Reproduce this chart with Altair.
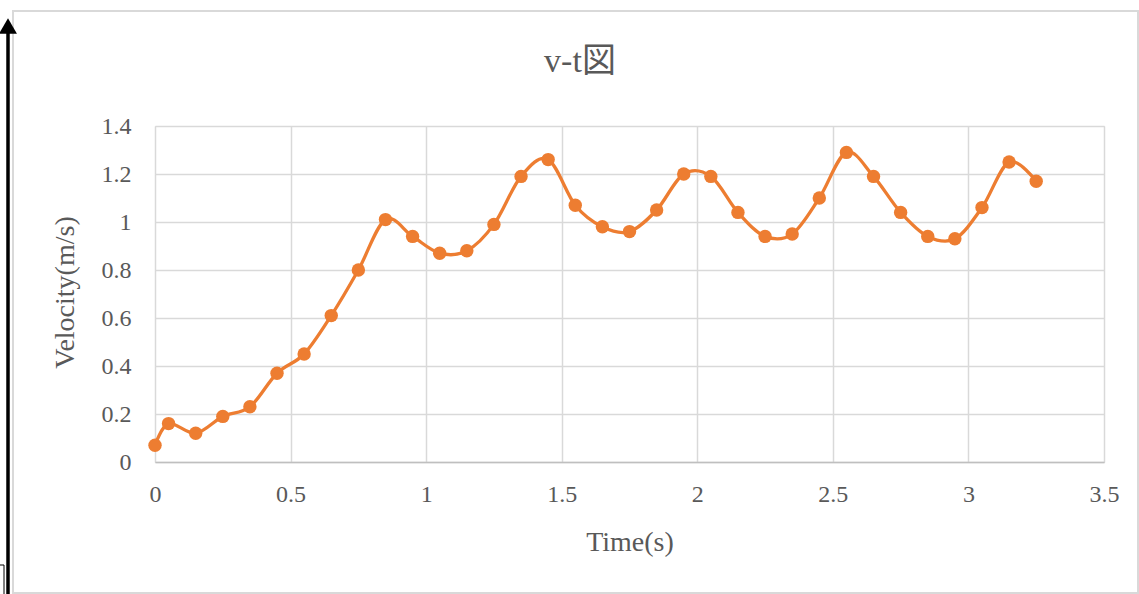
import altair as alt
import pandas as pd

time_s = [0, 0.05, 0.15, 0.25, 0.35, 0.45, 0.55, 0.65, 0.75, 0.85, 0.95, 1.05, 1.15,
          1.25, 1.35, 1.45, 1.55, 1.65, 1.75, 1.85, 1.95, 2.05, 2.15, 2.25, 2.35,
          2.45, 2.55, 2.65, 2.75, 2.85, 2.95, 3.05, 3.15, 3.25]
velocity = [0.07, 0.16, 0.12, 0.19, 0.23, 0.37, 0.45, 0.61, 0.80, 1.01, 0.94, 0.87, 0.88,
            0.99, 1.19, 1.26, 1.07, 0.98, 0.96, 1.05, 1.20, 1.19, 1.04, 0.94, 0.95,
            1.10, 1.29, 1.19, 1.04, 0.94, 0.93, 1.06, 1.25, 1.17]
x_ticks = [0, 0.5, 1, 1.5, 2, 2.5, 3, 3.5]
y_ticks = [0, 0.2, 0.4, 0.6, 0.8, 1.0, 1.2, 1.4]

df = pd.DataFrame({"t": time_s, "v": velocity})

FONT = "Liberation Serif, Noto Sans CJK JP"
TXT = "#595959"
ORANGE = "#ED7D31"

x = alt.X("t:Q", scale=alt.Scale(domain=[0, 3.5], nice=False),
          axis=alt.Axis(values=x_ticks, format="~g", title="Time(s)", grid=True,
                        gridColor="#d9d9d9", gridWidth=1.5,
                        domain=True, domainColor="#bfbfbf", domainWidth=1.5, ticks=False,
                        labelPadding=20, labelFontSize=24, labelColor=TXT, labelFont=FONT,
                        titleFont=FONT, titleFontSize=28, titleFontWeight="normal",
                        titleColor=TXT, titleBaseline="alphabetic", titleY=88,
                        titleX=474.5, titleAlign="center", labelFlush=False))
y = alt.Y("v:Q", scale=alt.Scale(domain=[0, 1.4], nice=False),
          axis=alt.Axis(values=y_ticks, format="~g", title="Velocity(m/s)", grid=True,
                        gridColor="#d9d9d9", gridWidth=1.5,
                        domain=False, ticks=False, labelPadding=24, labelFontSize=24,
                        labelColor=TXT, labelFont=FONT, titleFont=FONT, titleFontSize=28,
                        titleFontWeight="normal", titleColor=TXT, titleAngle=270,
                        titleBaseline="alphabetic", titleAlign="center",
                        titleX=-82, titleY=166, labelFlush=False))

base = alt.Chart(df)
line = base.mark_line(interpolate="cardinal", color=ORANGE, strokeWidth=3.3).encode(x=x, y=y)
pts = base.mark_circle(color=ORANGE, size=180, opacity=1).encode(x="t:Q", y="v:Q")

deco = alt.Chart(pd.DataFrame({"a": [0]}))
border = deco.mark_rect(fill=None, stroke="#d9d9d9", strokeWidth=2).encode(
    x=alt.value(-142), x2=alt.value(983), y=alt.value(-115), y2=alt.value(467))
arrow_line = deco.mark_rule(color="black", strokeWidth=3.5).encode(
    x=alt.value(-147), y=alt.value(-96), y2=alt.value(470))
arrow_head = deco.mark_point(shape="triangle-up", filled=True, color="black", size=320,
                             opacity=1).encode(x=alt.value(-147), y=alt.value(-100))
small_box = deco.mark_rect(fill=None, stroke="black", strokeWidth=1).encode(
    x=alt.value(-157), x2=alt.value(-151), y=alt.value(439), y2=alt.value(470))
title = deco.mark_text(text="v-t図", font=FONT, fontSize=34, color=TXT).encode(
    x=alt.value(425), y=alt.value(-64))

chart = alt.layer(border, arrow_line, arrow_head, small_box, line, pts, title).properties(
    width=949, height=336,
    autosize=alt.AutoSizeParams(type="none"),
    padding={"left": 155, "top": 126, "right": 35, "bottom": 132},
).configure_view(stroke=None).configure(background="white")

chart.save("out.html", embed_options={"renderer": "svg", "actions": False})
